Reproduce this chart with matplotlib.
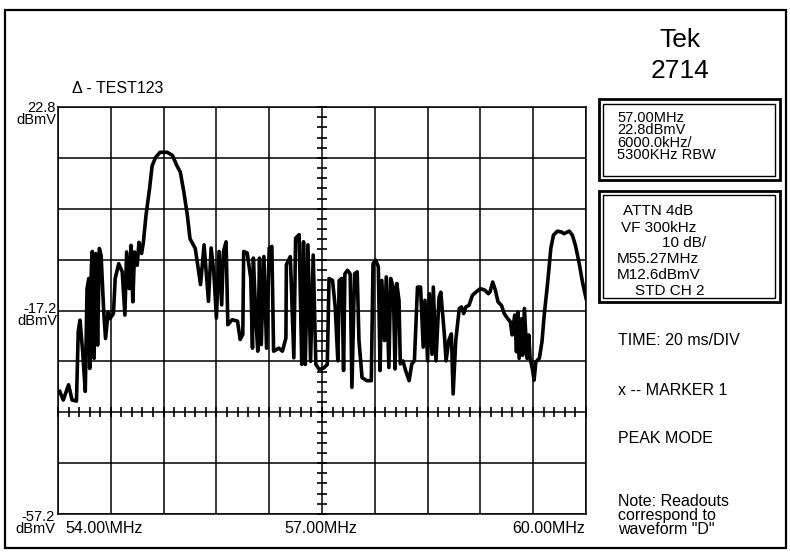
import numpy as np
import matplotlib
matplotlib.use("Agg")
import matplotlib.pyplot as plt
from matplotlib.patches import Rectangle

# ---------------- data ----------------
freq_mhz = [
    54.02, 54.06, 54.12, 54.16, 54.21, 54.23, 54.25, 54.28, 54.31, 54.33,
    54.35, 54.36, 54.38, 54.39, 54.41, 54.43, 54.45, 54.47, 54.49, 54.52,
    54.54, 54.57, 54.59, 54.63, 54.65, 54.69, 54.73, 54.76, 54.78, 54.81,
    54.83, 54.85, 54.87, 54.90, 54.92, 54.95, 54.97, 55.00, 55.04, 55.07,
    55.11, 55.16, 55.24, 55.30, 55.35, 55.39, 55.43, 55.47, 55.50, 55.56,
    55.62, 55.66, 55.71, 55.74, 55.77, 55.80, 55.83, 55.86, 55.88, 55.91,
    55.93, 55.98, 56.04, 56.07, 56.10, 56.11, 56.15, 56.19, 56.21, 56.22,
    56.25, 56.27, 56.29, 56.31, 56.34, 56.37, 56.40, 56.43, 56.45, 56.51,
    56.55, 56.59, 56.595, 56.64, 56.68, 56.70, 56.74, 56.77, 56.79, 56.81,
    56.84, 56.87, 56.90, 56.93, 56.97, 57.02, 57.06,
    57.08, 57.12, 57.15, 57.18, 57.195, 57.225, 57.245, 57.26, 57.29, 57.32,
    57.34, 57.37, 57.40, 57.42, 57.455, 57.51, 57.56, 57.58, 57.61, 57.64,
    57.66, 57.68, 57.71, 57.73, 57.76, 57.78, 57.81, 57.83, 57.85, 57.875,
    57.89, 57.92, 57.95, 57.99, 58.02, 58.05, 58.085, 58.12, 58.15, 58.17,
    58.20, 58.22, 58.25, 58.265, 58.295, 58.33, 58.35, 58.39, 58.41, 58.44,
    58.47, 58.49, 58.52,
    58.56, 58.585, 58.61, 58.635, 58.67, 58.71, 58.755, 58.80, 58.85, 58.89,
    58.91, 58.94, 58.97, 59.00, 59.04, 59.07, 59.11, 59.14, 59.16, 59.19,
    59.21, 59.225, 59.24, 59.27, 59.28, 59.30, 59.33, 59.35, 59.365, 59.39,
    59.41, 59.43, 59.47, 59.50, 59.525, 59.565, 59.60, 59.63, 59.675, 59.725,
    59.75, 59.81, 59.845, 59.88, 59.92, 59.96, 60.00,
]
level_dbmv = [
    -33.1, -34.8, -31.8, -34.8, -35.0, -21.3, -19.1, -25.2, -33.1, -12.9,
    -10.9, -28.6, -8.3, -5.6, -26.6, -6.0, -24.0, -5.0, -6.4, -17.5,
    -22.7, -17.5, -18.8, -17.8, -10.9, -8.0, -9.6, -18.1, -5.7, -12.9,
    -4.4, -15.5, -5.7, -8.3, -3.8, -6.0, -3.8, 1.5, 6.7, 11.3,
    12.9, 13.9, 13.9, 13.3, 11.3, 10.0, 6.1, 1.5, -3.1, -5.0,
    -12.1, -4.3, -15.4, -4.9, -9.5, -18.7, -5.6, -16.1, -5.6, -3.7,
    -20.0, -19.0, -19.3, -22.9, -21.9, -5.6, -5.9, -10.8, -24.6, -6.9,
    -19.3, -25.2, -6.9, -23.9, -6.6, -24.6, -4.9, -4.6, -25.2, -24.6,
    -25.2, -22.6, -8.2, -6.6, -26.5, -3.0, -2.3, -27.8, -3.7, -27.8,
    -4.3, -27.2, -6.3, -27.8, -28.8, -28.5, -27.8,
    -10.9, -11.3, -16.5, -27.1, -11.3, -10.9, -29.0, -10.0, -9.3, -10.0,
    -32.3, -10.0, -9.6, -23.1, -30.4, -31.0, -31.0, -8.0, -7.3, -8.6,
    -29.0, -11.3, -23.1, -10.6, -28.4, -10.9, -12.6, -28.7, -11.9, -15.2,
    -27.7, -27.1, -29.0, -31.0, -27.7, -27.1, -12.6, -12.6, -24.4, -15.2,
    -27.1, -13.9, -25.8, -12.6, -27.1, -14.6, -13.6, -21.8, -27.1, -23.1,
    -21.8, -33.6, -23.1,
    -16.8, -16.5, -17.8, -16.5, -16.2, -14.2, -13.5, -12.9, -13.2, -13.9,
    -13.5, -11.6, -13.2, -15.5, -16.2, -17.8, -18.8, -19.4, -22.0, -18.1,
    -25.3, -17.5, -26.6, -18.8, -26.0, -16.8, -26.6, -22.0, -26.6, -28.6,
    -30.9, -27.3, -26.6, -23.3, -18.1, -11.6, -5.0, -2.4, -1.6, -1.8,
    -2.1, -1.6, -2.4, -4.4, -7.7, -11.6, -14.8,
]

f_start, f_stop, f_center = 54.00, 60.00, 57.00
ref_level, bottom_level = 22.8, -57.2
marker_axis_level = -37.2

x_tick_labels = ["54.00\\MHz", "57.00MHz", "60.00MHz"]
y_tick_labels = ["22.8\ndBmV", "-17.2\ndBmV", "-57.2\ndBmV"]

box1_lines = ["57.00MHz", "22.8dBmV", "6000.0kHz/", "5300KHz RBW"]
box2_lines = ["ATTN 4dB", "VF 300kHz", "10 dB/", "M55.27MHz", "M12.6dBmV", "STD CH 2"]

# ---------------- figure ----------------
W, H = 790, 556
plt.rcParams["font.family"] = ["Liberation Sans", "DejaVu Sans"]
fig = plt.figure(figsize=(W / 100, H / 100), dpi=100)
fig.patch.set_facecolor("white")


def fx(px):
    return px / W


def fy(py):
    return 1 - py / H


def ftext(px, py, s, size=11.5, ha="left", va="baseline", **kw):
    fig.text(fx(px), fy(py), s, fontsize=size, ha=ha, va=va, color="black", **kw)


def frect(x0, y0, x1, y1, lw):
    fig.add_artist(Rectangle((fx(x0), fy(y1)), fx(x1) - fx(x0), fy(y0) - fy(y1),
                             transform=fig.transFigure, fill=False,
                             edgecolor="black", linewidth=lw))


# outer frame
frect(5, 10, 786, 548, 1.6)

# graticule
ax = fig.add_axes([fx(58), fy(514), fx(586) - fx(58), fy(107) - fy(514)])
ax.set_xlim(f_start, f_stop)
ax.set_ylim(bottom_level, ref_level)
ax.set_xticks(np.linspace(f_start, f_stop, 11))
ax.set_yticks(np.linspace(bottom_level, ref_level, 9))
ax.tick_params(length=0, labelbottom=False, labelleft=False)
ax.grid(True, color="black", linewidth=1.1)
for sp in ax.spines.values():
    sp.set_linewidth(1.1)
    sp.set_color("black")

# minor "+" ticks on the centre vertical and the marker horizontal lines
yt = np.arange(bottom_level, ref_level + 0.01, 2.0)
ax.plot(np.full(len(yt), f_center), yt, ls="none", marker="_", ms=7,
        mew=1.2, color="black", clip_on=False, zorder=3)
xt = np.arange(f_start, f_stop + 0.001, 0.12)
ax.plot(xt, np.full(len(xt), marker_axis_level), ls="none", marker="|", ms=7,
        mew=1.2, color="black", clip_on=False, zorder=3)

# trace
ax.plot(freq_mhz, level_dbmv, color="black", linewidth=2.6,
        solid_joinstyle="round", zorder=4)

# ---------------- texts ----------------
ftext(72, 93, "\u0394 - TEST123", size=11.5)

ftext(680, 40, "Tek", size=19, ha="center", va="center")
ftext(680, 71, "2714", size=19, ha="center", va="center")

# left level labels (va='baseline' on multi-line text = last line's baseline)
for px, py, s in zip([56, 57, 55], [124, 325, 533], y_tick_labels):
    ftext(px, py, s, size=10.5, ha="right", multialignment="right",
          linespacing=0.8)

# frequency labels
ftext(65, 533, x_tick_labels[0], size=11.5)
ftext(321, 533, x_tick_labels[1], size=11.5, ha="center")
ftext(585, 533, x_tick_labels[2], size=11.5, ha="right")

# readout box 1
frect(599, 99, 780, 180, 2.0)
frect(603, 104, 775, 176, 1.0)
ftext(617, 159, "\n".join(box1_lines), size=10.5, linespacing=0.85)

# readout box 2
frect(599, 191, 780, 302, 2.0)
frect(603, 195, 775, 298, 1.0)
for px, py, s in zip([623, 621, 662, 617, 617, 635],
                     [215, 232, 247, 263, 279, 295], box2_lines):
    ftext(px, py, s, size=11)

# right side notes
ftext(618, 345, "TIME: 20 ms/DIV", size=11.5)
ftext(618, 395, "x -- MARKER 1", size=11.5)
ftext(618, 443, "PEAK MODE", size=11.5)
ftext(618, 534, "Note: Readouts\ncorrespond to\nwaveform \"D\"", size=11.5,
      linespacing=0.92)

fig.savefig("out.png", dpi=100, facecolor="white")
